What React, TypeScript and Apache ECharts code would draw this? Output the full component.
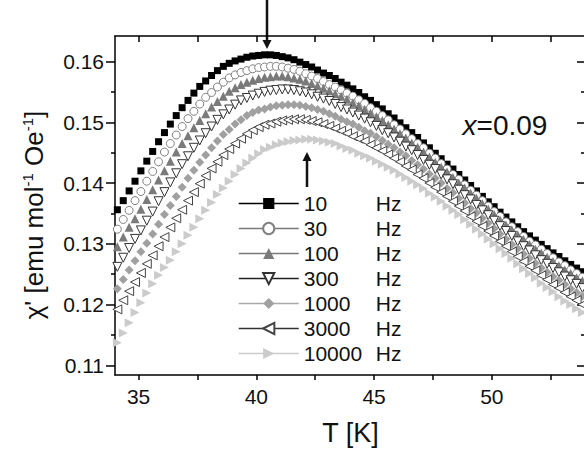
import React, { useEffect, useRef } from "react";
import * as echarts from "echarts";

// Temperature grid (K)
const temps = [
  34.1, 34.35, 34.6, 34.85, 35.1, 35.35, 35.6, 35.85, 36.1, 36.35,
  36.6, 36.85, 37.1, 37.35, 37.6, 37.85, 38.1, 38.35, 38.6, 38.85,
  39.1, 39.35, 39.6, 39.85, 40.1, 40.35, 40.6, 40.85, 41.1, 41.35,
  41.6, 41.85, 42.1, 42.35, 42.6, 42.85, 43.1, 43.35, 43.6, 43.85,
  44.1, 44.35, 44.6, 44.85, 45.1, 45.35, 45.6, 45.85, 46.1, 46.35,
  46.6, 46.85, 47.1, 47.35, 47.6, 47.85, 48.1, 48.35, 48.6, 48.85,
  49.1, 49.35, 49.6, 49.85, 50.1, 50.35, 50.6, 50.85, 51.1, 51.35,
  51.6, 51.85, 52.1, 52.35, 52.6, 52.85, 53.1, 53.35, 53.6, 53.85,
  54.1,
];

const freqLabels = ["10", "30", "100", "300", "1000", "3000", "10000"];

const chi10 = [
  0.1356, 0.1371, 0.1387, 0.1403, 0.142, 0.1436, 0.1452, 0.1468, 0.1483, 0.1497,
  0.1511, 0.1524, 0.1536, 0.1548, 0.1559, 0.1568, 0.1577, 0.1585, 0.1592, 0.1597,
  0.1601, 0.1604, 0.1607, 0.1609, 0.161, 0.1611, 0.1611, 0.161, 0.1608, 0.1606,
  0.1603, 0.1599, 0.1595, 0.1591, 0.1586, 0.1581, 0.1577, 0.1572, 0.1566, 0.1561,
  0.1555, 0.1549, 0.1542, 0.1536, 0.1529, 0.1522, 0.1514, 0.1507, 0.1499, 0.1491,
  0.1483, 0.1475, 0.1466, 0.1458, 0.1449, 0.144, 0.1431, 0.1423, 0.1414, 0.1405,
  0.1396, 0.1387, 0.1378, 0.1369, 0.1361, 0.1352, 0.1344, 0.1336, 0.1328, 0.132,
  0.1313, 0.1306, 0.1299, 0.1292, 0.1285, 0.1279, 0.1272, 0.1266, 0.126, 0.1254,
  0.1248,
];

const chi30 = [
  0.1324, 0.134, 0.1355, 0.1371, 0.1386, 0.1403, 0.1419, 0.1435, 0.1451, 0.1465,
  0.1479, 0.1493, 0.1506, 0.1518, 0.153, 0.1541, 0.1549, 0.1558, 0.1566, 0.1573,
  0.1578, 0.1582, 0.1585, 0.1588, 0.159, 0.1591, 0.1592, 0.1592, 0.1591, 0.1589,
  0.1587, 0.1584, 0.158, 0.1576, 0.1572, 0.1567, 0.1562, 0.1558, 0.1553, 0.1548,
  0.1543, 0.1537, 0.1531, 0.1524, 0.1518, 0.1511, 0.1504, 0.1496, 0.1489, 0.1481,
  0.1473, 0.1465, 0.1458, 0.1449, 0.1441, 0.1432, 0.1423, 0.1414, 0.1406, 0.1397,
  0.1388, 0.138, 0.1371, 0.1362, 0.1353, 0.1345, 0.1336, 0.1328, 0.132, 0.1312,
  0.1304, 0.1298, 0.1291, 0.1284, 0.1277, 0.127, 0.1264, 0.1257, 0.1251, 0.1245,
  0.1239,
];

const chi100 = [
  0.1295, 0.1311, 0.1327, 0.1341, 0.1357, 0.1373, 0.1389, 0.1405, 0.142, 0.1436,
  0.1451, 0.1465, 0.1478, 0.1491, 0.1503, 0.1514, 0.1525, 0.1534, 0.1543, 0.1551,
  0.1557, 0.1562, 0.1566, 0.1569, 0.1572, 0.1574, 0.1575, 0.1576, 0.1576, 0.1575,
  0.1573, 0.1571, 0.1568, 0.1564, 0.156, 0.1556, 0.1552, 0.1547, 0.1543, 0.1538,
  0.1532, 0.1527, 0.1521, 0.1515, 0.1509, 0.1503, 0.1496, 0.1489, 0.1481, 0.1474,
  0.1466, 0.1459, 0.1451, 0.1443, 0.1434, 0.1426, 0.1418, 0.1409, 0.14, 0.1392,
  0.1383, 0.1375, 0.1366, 0.1357, 0.1348, 0.1339, 0.1331, 0.1323, 0.1315, 0.1307,
  0.1299, 0.1291, 0.1285, 0.1278, 0.1271, 0.1264, 0.1257, 0.1251, 0.1244, 0.1239,
  0.1233,
];

const chi300 = [
  0.1262, 0.1277, 0.1293, 0.1308, 0.1322, 0.1338, 0.1353, 0.137, 0.1385, 0.1401,
  0.1416, 0.1431, 0.1444, 0.1458, 0.147, 0.1482, 0.1493, 0.1504, 0.1513, 0.1521,
  0.1529, 0.1536, 0.154, 0.1544, 0.1547, 0.155, 0.1552, 0.1553, 0.1554, 0.1554,
  0.1553, 0.1551, 0.1549, 0.1546, 0.1542, 0.1539, 0.1535, 0.153, 0.1525, 0.1521,
  0.1516, 0.1511, 0.1506, 0.15, 0.1494, 0.1487, 0.1482, 0.1475, 0.1468, 0.146,
  0.1454, 0.1446, 0.1438, 0.143, 0.1423, 0.1414, 0.1406, 0.1398, 0.1389, 0.138,
  0.1373, 0.1364, 0.1355, 0.1347, 0.1338, 0.1329, 0.1321, 0.1313, 0.1304, 0.1296,
  0.1289, 0.1281, 0.1273, 0.1267, 0.126, 0.1253, 0.1246, 0.124, 0.1234, 0.1227,
  0.1221,
];

const chi1000 = [
  0.1226, 0.1241, 0.1257, 0.1272, 0.1287, 0.1301, 0.1316, 0.1332, 0.1348, 0.1363,
  0.1378, 0.1393, 0.1408, 0.1421, 0.1434, 0.1446, 0.1458, 0.1469, 0.148, 0.1488,
  0.1497, 0.1504, 0.1511, 0.1516, 0.152, 0.1522, 0.1525, 0.1527, 0.1528, 0.1529,
  0.1529, 0.1528, 0.1526, 0.1524, 0.1521, 0.1518, 0.1514, 0.151, 0.1505, 0.1501,
  0.1497, 0.1492, 0.1486, 0.1482, 0.1476, 0.147, 0.1464, 0.1458, 0.1451, 0.1445,
  0.1437, 0.143, 0.1423, 0.1415, 0.1408, 0.14, 0.1391, 0.1384, 0.1375, 0.1367,
  0.1358, 0.1351, 0.1342, 0.1334, 0.1325, 0.1316, 0.1308, 0.1299, 0.1292, 0.1283,
  0.1276, 0.1268, 0.126, 0.1253, 0.1246, 0.124, 0.1233, 0.1226, 0.122, 0.1214,
  0.1207,
];

const chi3000 = [
  0.1192, 0.1207, 0.1222, 0.1237, 0.1252, 0.1267, 0.1281, 0.1296, 0.1311, 0.1327,
  0.1342, 0.1356, 0.1371, 0.1385, 0.1399, 0.1412, 0.1424, 0.1435, 0.1446, 0.1456,
  0.1465, 0.1473, 0.1481, 0.1487, 0.1492, 0.1496, 0.1498, 0.1501, 0.1503, 0.1504,
  0.1505, 0.1505, 0.1504, 0.1502, 0.15, 0.1497, 0.1494, 0.149, 0.1486, 0.1482,
  0.1477, 0.1473, 0.1469, 0.1463, 0.1458, 0.1453, 0.1447, 0.1441, 0.1435, 0.1428,
  0.1422, 0.1414, 0.1408, 0.14, 0.1393, 0.1385, 0.1378, 0.137, 0.1362, 0.1354,
  0.1345, 0.1337, 0.1329, 0.1321, 0.1313, 0.1304, 0.1296, 0.1287, 0.1279, 0.1271,
  0.1263, 0.1256, 0.1248, 0.1241, 0.1233, 0.1227, 0.122, 0.1213, 0.1207, 0.12,
  0.1195,
];

const chi10000 = [
  0.1137, 0.1153, 0.117, 0.1187, 0.1203, 0.1219, 0.1234, 0.1248, 0.1261, 0.1273,
  0.1287, 0.13, 0.1314, 0.1327, 0.1341, 0.1355, 0.1368, 0.1381, 0.1392, 0.1403,
  0.1414, 0.1424, 0.1433, 0.1441, 0.1448, 0.1455, 0.1459, 0.1463, 0.1466, 0.1468,
  0.147, 0.1471, 0.1472, 0.1472, 0.1471, 0.1469, 0.1467, 0.1465, 0.1461, 0.1457,
  0.1454, 0.1449, 0.1445, 0.1441, 0.1436, 0.1431, 0.1426, 0.1421, 0.1415, 0.1409,
  0.1403, 0.1397, 0.1391, 0.1383, 0.1377, 0.137, 0.1362, 0.1355, 0.1348, 0.134,
  0.1332, 0.1324, 0.1316, 0.1308, 0.13, 0.1292, 0.1284, 0.1276, 0.1267, 0.1259,
  0.1251, 0.1244, 0.1235, 0.1228, 0.1221, 0.1213, 0.1206, 0.12, 0.1193, 0.1187,
  0.1181,
];

const seriesValues = [chi10, chi30, chi100, chi300, chi1000, chi3000, chi10000];

const xTickValues = [35, 37.5, 40, 42.5, 45, 47.5, 50, 52.5];
const xLabelValues = [35, 40, 45, 50];
const yMajorValues = [0.11, 0.12, 0.13, 0.14, 0.15, 0.16];
const yMinorValues = [0.115, 0.125, 0.135, 0.145, 0.155];

const FONT = "'Liberation Sans', Arial, Helvetica, sans-serif";

const markerStyles = [
  { symbol: "rect", size: 7, rotate: 0, fill: "#000000", stroke: "#000000", bw: 0, line: "#000000" },
  { symbol: "circle", size: 8, rotate: 0, fill: "#ffffff", stroke: "#808080", bw: 1, line: "#7a7a7a" },
  { symbol: "triangle", size: 9, rotate: 0, fill: "#7a7a7a", stroke: "#7a7a7a", bw: 0, line: "#7a7a7a" },
  { symbol: "triangle", size: 9, rotate: 180, fill: "#ffffff", stroke: "#333333", bw: 1, line: "#222222" },
  { symbol: "diamond", size: 9, rotate: 0, fill: "#a0a0a0", stroke: "#a0a0a0", bw: 0, line: "#a8a8a8" },
  { symbol: "triangle", size: 9, rotate: 90, fill: "#ffffff", stroke: "#444444", bw: 1, line: "#333333" },
  { symbol: "triangle", size: 9, rotate: -90, fill: "#cbcbcb", stroke: "#cbcbcb", bw: 0, line: "#cccccc" },
];

export default function App() {
  const ref = useRef<HTMLDivElement>(null);

  useEffect(() => {
    if (!ref.current) return;
    const chart = echarts.init(ref.current, undefined, { renderer: "svg" });
    const axisLine = { show: true, lineStyle: { color: "#000", width: 1.5 } };
    const yRange = { min: 0.1084, max: 0.1642 };
    const xRange = { min: 34, max: 54 };

    const option: any = {
      animation: false,
      backgroundColor: "#ffffff",
      grid: { left: 115, top: 36, width: 471, height: 342, containLabel: false },
      xAxis: [
        {
          type: "value",
          position: "bottom",
          ...xRange,
          axisLine,
          splitLine: { show: false },
          axisTick: { show: true, inside: false, length: 5, customValues: xTickValues, lineStyle: { color: "#000", width: 1.5 } },
          axisLabel: {
            show: true,
            customValues: xLabelValues,
            margin: 11,
            fontSize: 21,
            fontFamily: FONT,
            color: "#111",
            formatter: (v: number) => String(v),
          },
          name: "T [K]",
          nameLocation: "middle",
          nameGap: 44,
          nameTextStyle: { fontSize: 27, fontFamily: FONT, color: "#111" },
        },
        {
          type: "value",
          position: "top",
          ...xRange,
          axisLine,
          splitLine: { show: false },
          axisTick: { show: true, inside: true, length: 6, customValues: xTickValues, lineStyle: { color: "#000", width: 1.5 } },
          axisLabel: { show: false },
        },
      ],
      yAxis: [
        {
          type: "value",
          position: "left",
          ...yRange,
          axisLine,
          splitLine: { show: false },
          axisTick: { show: true, inside: false, length: 9, customValues: yMajorValues, lineStyle: { color: "#000", width: 1.5 } },
          axisLabel: {
            show: true,
            customValues: yMajorValues,
            margin: 11,
            fontSize: 21,
            fontFamily: FONT,
            color: "#111",
            formatter: (v: number) => v.toFixed(2),
          },
        },
        {
          type: "value",
          position: "left",
          ...yRange,
          axisLine: { show: false },
          splitLine: { show: false },
          axisTick: { show: true, inside: false, length: 4, customValues: yMinorValues, lineStyle: { color: "#000", width: 1.5 } },
          axisLabel: { show: false },
        },
        {
          type: "value",
          position: "right",
          ...yRange,
          axisLine,
          splitLine: { show: false },
          axisTick: { show: true, inside: true, length: 9, customValues: yMajorValues, lineStyle: { color: "#000", width: 1.5 } },
          axisLabel: { show: false },
        },
        {
          type: "value",
          position: "right",
          ...yRange,
          axisLine: { show: false },
          splitLine: { show: false },
          axisTick: { show: true, inside: true, length: 5, customValues: yMinorValues, lineStyle: { color: "#000", width: 1.5 } },
          axisLabel: { show: false },
        },
      ],
      legend: {
        orient: "vertical",
        left: 233,
        top: 186,
        itemWidth: 60,
        itemHeight: 14,
        itemGap: 0,
        selectedMode: false,
        data: freqLabels.map((n, i) => ({
          name: n,
          lineStyle: { color: markerStyles[i].line, width: 1.5, opacity: 1, type: "solid" },
        })),
        formatter: (name: string) => `{n|${name}}{h|Hz}`,
        textStyle: {
          fontFamily: FONT,
          fontSize: 21,
          color: "#111",
          lineHeight: 25,
          rich: {
            n: { width: 72, fontSize: 21, fontFamily: FONT, color: "#111", lineHeight: 25 },
            h: { fontSize: 21, fontFamily: FONT, color: "#111", lineHeight: 25 },
          },
        },
      },
      series: seriesValues.map((vals, i) => {
        const s = markerStyles[i];
        return {
          type: "line",
          name: freqLabels[i],
          xAxisIndex: 0,
          yAxisIndex: 0,
          data: temps.map((t, j) => [t, vals[j]]),
          symbol: s.symbol,
          symbolSize: s.size,
          symbolRotate: s.rotate,
          showSymbol: true,
          showAllSymbol: true,
          silent: true,
          clip: true,
          lineStyle: { opacity: 0, width: 0 },
          itemStyle: { color: s.fill, borderColor: s.stroke, borderWidth: s.bw, opacity: 1 },
        };
      }),
      graphic: [
        {
          type: "text",
          x: 34,
          y: 215,
          rotation: Math.PI / 2,
          style: {
            text: "{a|χ' [emu mol}{s|-1}{a| Oe}{s|-1}{a|]}",
            align: "center",
            verticalAlign: "middle",
            fill: "#111",
            rich: {
              a: { fontSize: 26, fontFamily: FONT, fill: "#111", lineHeight: 28 },
              s: { fontSize: 15, fontFamily: FONT, fill: "#111", verticalAlign: "top", lineHeight: 15 },
            },
          },
        },
        {
          type: "text",
          x: 505,
          y: 125,
          style: {
            text: "{i|x}=0.09",
            align: "center",
            verticalAlign: "middle",
            fill: "#111",
            fontSize: 28,
            fontFamily: FONT,
            rich: {
              i: { fontSize: 28, fontFamily: FONT, fontStyle: "italic", fill: "#111" },
            },
          },
        },
        {
          type: "line",
          shape: { x1: 267, y1: 0, x2: 267, y2: 42 },
          style: { stroke: "#111", lineWidth: 2.5 },
        },
        {
          type: "polygon",
          shape: { points: [[262.5, 40], [271.5, 40], [267, 49]] },
          style: { fill: "#111" },
        },
        {
          type: "line",
          shape: { x1: 307, y1: 160, x2: 307, y2: 187 },
          style: { stroke: "#111", lineWidth: 2.5 },
        },
        {
          type: "polygon",
          shape: { points: [[302.5, 161], [311.5, 161], [307, 152]] },
          style: { fill: "#111" },
        },
      ],
    };

    chart.setOption(option);
    return () => chart.dispose();
  }, []);

  return (
    <div
      style={{
        position: "absolute",
        left: 0,
        top: 0,
        width: 584,
        height: 451,
        overflow: "hidden",
        background: "#ffffff",
      }}
    >
      <div ref={ref} style={{ width: 600, height: 451 }} />
    </div>
  );
}
